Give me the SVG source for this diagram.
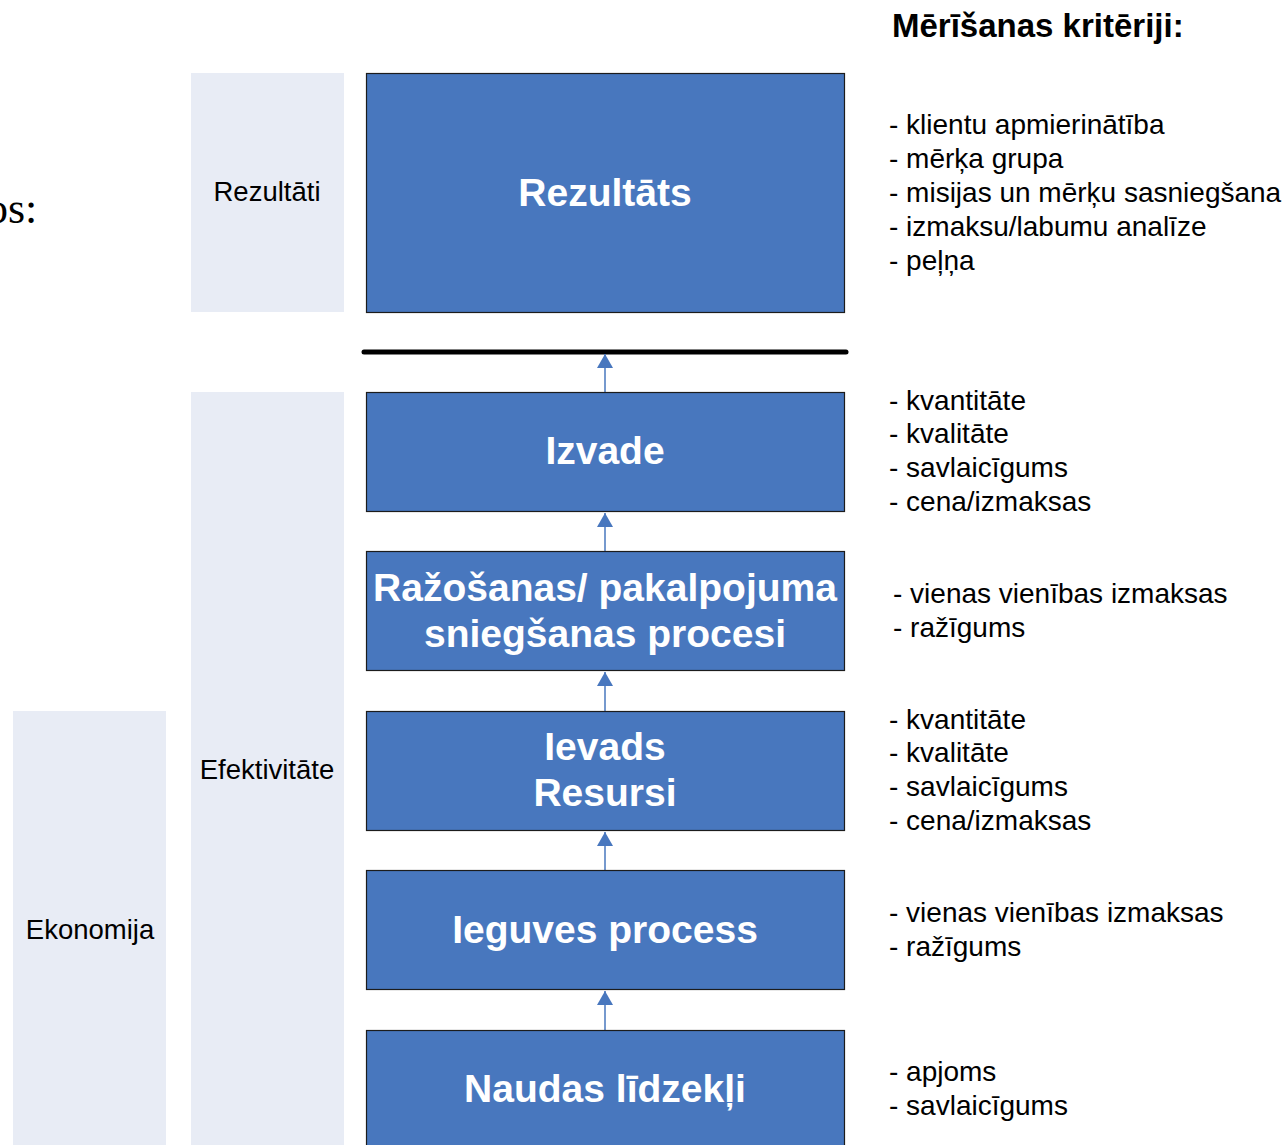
<svg xmlns="http://www.w3.org/2000/svg" width="1287" height="1145" viewBox="0 0 1287 1145">
<defs>
<style>
.panel{fill:#E8ECF5;}
.box{fill:#4877BE;stroke:#1c1c1c;stroke-width:1.2;}
.title{font-family:"Liberation Sans",Arial,sans-serif;font-weight:bold;font-size:39px;fill:#ffffff;text-anchor:middle;}
.plab{font-family:"Liberation Sans",Arial,sans-serif;font-size:27.5px;fill:#000;text-anchor:middle;}
.crit{font-family:"Liberation Sans",Arial,sans-serif;font-size:28px;fill:#000;}
.conn{stroke:#4877BE;stroke-width:1.5;fill:none;}
</style>
<marker id="ah" viewBox="0 0 14 16" refX="14" refY="8" markerWidth="14" markerHeight="16" markerUnits="userSpaceOnUse" orient="auto">
<path d="M0,0 L14,8 L0,16 Z" fill="#4877BE"/>
</marker>
</defs>
<rect width="1287" height="1145" fill="#ffffff"/>
<text x="-14" y="223" font-family="Liberation Serif,'Times New Roman',serif" font-size="44" fill="#000">os:</text>
<g id="panel-rezultati"><rect class="panel" x="191" y="73" width="153" height="239"/><text class="plab" x="267" y="201">Rezultāti</text></g>
<g id="panel-efektivitate"><rect class="panel" x="191" y="392" width="153" height="753"/><text class="plab" x="267" y="779">Efektivitāte</text></g>
<g id="panel-ekonomija"><rect class="panel" x="13" y="711" width="153" height="434"/><text class="plab" x="90" y="939">Ekonomija</text></g>
<text x="892" y="37" font-family="Liberation Sans,Arial,sans-serif" font-weight="bold" font-size="33" fill="#000">Mērīšanas kritēriji:</text>
<g id="connectors">
<line x1="364" y1="352" x2="846" y2="352" stroke="#000" stroke-width="5" stroke-linecap="round"/>
<line class="conn" x1="605" y1="392" x2="605" y2="354" marker-end="url(#ah)"/>
<line class="conn" x1="605" y1="551" x2="605" y2="513" marker-end="url(#ah)"/>
<line class="conn" x1="605" y1="711" x2="605" y2="672" marker-end="url(#ah)"/>
<line class="conn" x1="605" y1="870" x2="605" y2="832" marker-end="url(#ah)"/>
<line class="conn" x1="605" y1="1030" x2="605" y2="991" marker-end="url(#ah)"/>
</g>
<g id="node-rezultats"><rect class="box" x="366.5" y="73.5" width="478" height="239"/><text class="title" x="605" y="206">Rezultāts</text></g>
<g id="node-izvade"><rect class="box" x="366.5" y="392.5" width="478" height="119"/><text class="title" x="605" y="464">Izvade</text></g>
<g id="node-razosanas"><rect class="box" x="366.5" y="551.5" width="478" height="119"/><text class="title" x="605" y="601">Ražošanas/ pakalpojuma</text><text class="title" x="605" y="647">sniegšanas procesi</text></g>
<g id="node-ievads"><rect class="box" x="366.5" y="711.5" width="478" height="119"/><text class="title" x="605" y="760">Ievads</text><text class="title" x="605" y="806">Resursi</text></g>
<g id="node-ieguves"><rect class="box" x="366.5" y="870.5" width="478" height="119"/><text class="title" x="605" y="943">Ieguves process</text></g>
<g id="node-naudas"><rect class="box" x="366.5" y="1030.5" width="478" height="130"/><text class="title" x="605" y="1102">Naudas līdzekļi</text></g>
<g id="crit-rezultats" class="crit">
<text x="889" y="134">- klientu apmierinātība</text>
<text x="889" y="168">- mērķa grupa</text>
<text x="889" y="202">- misijas un mērķu sasniegšana</text>
<text x="889" y="236">- izmaksu/labumu analīze</text>
<text x="889" y="270">- peļņa</text>
</g>
<g id="crit-izvade" class="crit">
<text x="889" y="410">- kvantitāte</text>
<text x="889" y="443">- kvalitāte</text>
<text x="889" y="477">- savlaicīgums</text>
<text x="889" y="511">- cena/izmaksas</text>
</g>
<g id="crit-razosanas" class="crit">
<text x="893" y="603">- vienas vienības izmaksas</text>
<text x="893" y="637">- ražīgums</text>
</g>
<g id="crit-ievads" class="crit">
<text x="889" y="729">- kvantitāte</text>
<text x="889" y="762">- kvalitāte</text>
<text x="889" y="796">- savlaicīgums</text>
<text x="889" y="830">- cena/izmaksas</text>
</g>
<g id="crit-ieguves" class="crit">
<text x="889" y="922">- vienas vienības izmaksas</text>
<text x="889" y="956">- ražīgums</text>
</g>
<g id="crit-naudas" class="crit">
<text x="889" y="1081">- apjoms</text>
<text x="889" y="1115">- savlaicīgums</text>
</g>
</svg>
